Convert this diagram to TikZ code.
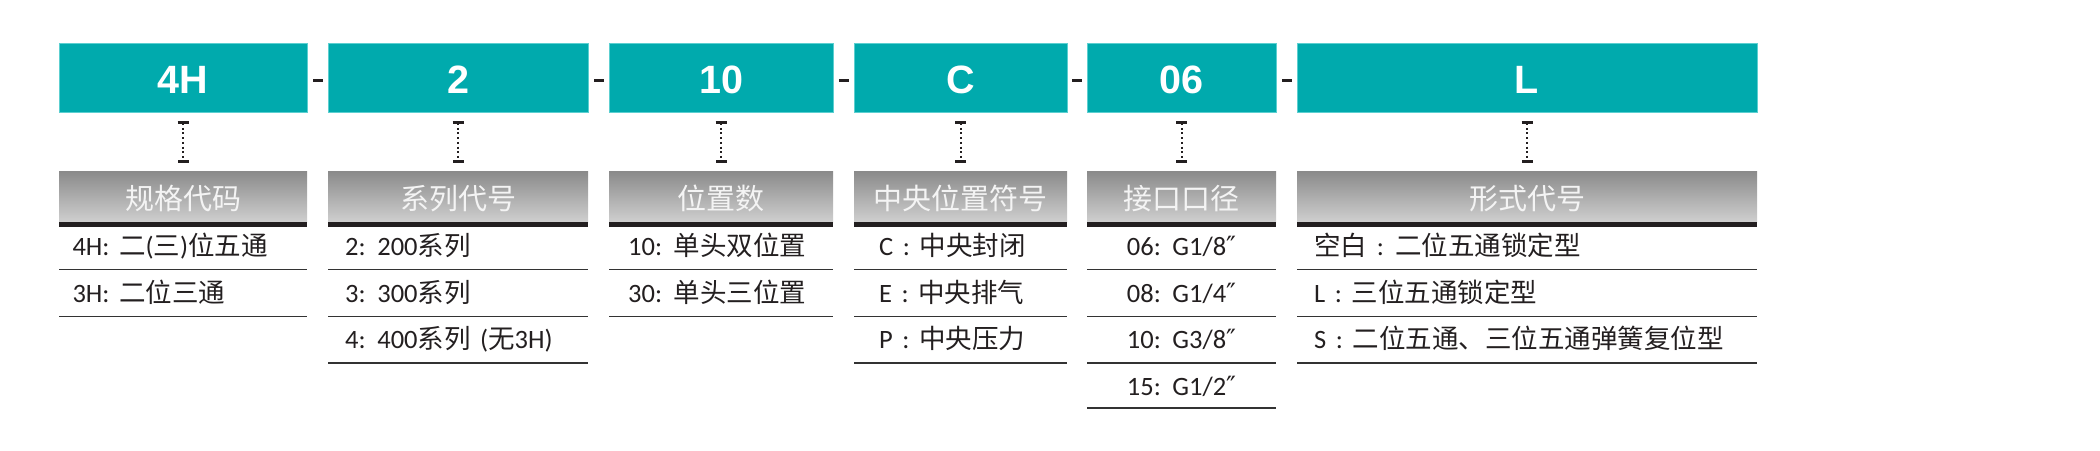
\documentclass[tikz,border=0pt]{standalone}
\usepackage{fontspec}
\setmainfont{Carlito}[WordSpace=1.6]
\newfontfamily\zhfont{Noto Sans CJK SC}
\newfontfamily\codefont{Liberation Sans}
\newfontfamily\primefont{DejaVu Sans}
\usetikzlibrary{arrows.meta,calc,shadings}
\newcommand\zh[1]{{\zhfont #1}}
\newcommand\inchmark{{\primefont ″}}
\definecolor{tealc}{HTML}{00AAAD}
\definecolor{tealedge}{HTML}{5CCFD0}
\definecolor{hdtop}{HTML}{8B8B8B}
\definecolor{hdbot}{HTML}{CFCFCF}
\definecolor{hdtext}{HTML}{F4F4F4}
\definecolor{ink}{HTML}{231F20}
\definecolor{rulec}{HTML}{333333}
\tikzset{
  codebox/.style={rectangle, fill=tealc, draw=tealedge, line width=1pt,
    minimum height=69pt, inner sep=0pt, text=white,
    font=\codefont\bfseries\fontsize{39.5}{40}\selectfont,
    text height=31pt, text depth=0pt},
  hdbox/.style={rectangle, top color=hdtop, bottom color=hdbot,
    minimum height=50.3pt, inner sep=0pt, text=hdtext,
    font=\zhfont\fontsize{29}{30}\selectfont,
    text height=24.3pt, text depth=0pt},
  rowtxt/.style={inner sep=0pt, text=ink, font=\fontsize{26.5}{30}\selectfont},
  hyph/.style={rectangle, fill=ink, minimum width=10pt, minimum height=3pt, inner sep=0pt},
  conn/.style={ink, line width=2pt, dash pattern=on 2pt off 2.7pt,
    {Bar[width=11pt,line width=2.5pt]}-{Bar[width=11pt,line width=2.5pt]}},
  rulel/.style={rulec, line width=1.6pt}
}
\begin{document}
\begin{tikzpicture}[x=1pt,y=-1pt]
\useasboundingbox (0,0) rectangle (2100,450);
% code boxes, headers, connectors
\foreach \n/\cx/\w/\code/\hd in {
  1/183/248/4H/规格代码,
  2/458/260/2/系列代号,
  3/721/224/10/位置数,
  4/960.5/213/C/中央位置符号,
  5/1181.5/189/06/接口口径,
  6/1527/460/L/形式代号}{
  \node[codebox, minimum width=\w pt] (c\n) at (\cx,77.8) {\code};
  \node[hdbox, minimum width=\w pt] (h\n) at (\cx,196.85) {\hd};
  \fill[ink] (h\n.south west) rectangle ([yshift=-5pt]h\n.south east);
  \draw[conn] ([yshift=-8.4pt]c\n.south) -- ([yshift=9pt]h\n.north);
}
% hyphens between code boxes
\foreach \a/\b in {1/2,2/3,3/4,4/5,5/6}{
  \node[hyph] (d\a) at ($(c\a.east)!0.5!(c\b.west)+(0,2.2)$) {};
}
% table rules
\foreach \l/\r/\ys in {59/307/{269.5,316.3}, 328/588/{269.5,316.3,363}, 609/833/{269.5,316.3},
  854/1067/{269.5,316.3,363}, 1087/1276/{269.5,316.3,363,408}, 1297/1757/{269.5,316.3,363}}{
  \foreach \y in \ys { \draw[rulel] (\l,\y) -- (\r,\y); }
}
% column 1
\node[rowtxt, anchor=base west] (r1a) at (72.3,255.3) {4H: \zh{二}(\zh{三})\zh{位五通}};
\node[rowtxt, anchor=base west] (r1b) at (72.3,302) {3H: \zh{二位三通}};
% column 2
\node[rowtxt, anchor=base west] (r2a) at (345,255.3) {2: 200\zh{系列}};
\node[rowtxt, anchor=base west] (r2b) at (345,302) {3: 300\zh{系列}};
\node[rowtxt, anchor=base west] (r2c) at (345,348.7) {4: 400\zh{系列} (\zh{无}3H)};
% column 3
\node[rowtxt, anchor=base west] (r3a) at (628,255.3) {10: \zh{单头双位置}};
\node[rowtxt, anchor=base west] (r3b) at (628,302) {30: \zh{单头三位置}};
% column 4
\node[rowtxt, anchor=base west] (r4a) at (879,255.3) {C : \zh{中央封闭}};
\node[rowtxt, anchor=base west] (r4b) at (879,302) {E : \zh{中央排气}};
\node[rowtxt, anchor=base west] (r4c) at (879,348.7) {P : \zh{中央压力}};
% column 5
\node[rowtxt, anchor=base] (r5a) at (1181.5,255.3) {06: G1/8\inchmark};
\node[rowtxt, anchor=base] (r5b) at (1181.5,302) {08: G1/4\inchmark};
\node[rowtxt, anchor=base] (r5c) at (1181.5,348.7) {10: G3/8\inchmark};
\node[rowtxt, anchor=base] (r5d) at (1181.5,395.4) {15: G1/2\inchmark};
% column 6
\node[rowtxt, anchor=base west] (r6a) at (1314,255.3) {\zh{空白} : \zh{二位五通锁定型}};
\node[rowtxt, anchor=base west] (r6b) at (1314,302) {L : \zh{三位五通锁定型}};
\node[rowtxt, anchor=base west] (r6c) at (1314,348.7) {S : \zh{二位五通、三位五通弹簧复位型}};
\end{tikzpicture}
\end{document}
